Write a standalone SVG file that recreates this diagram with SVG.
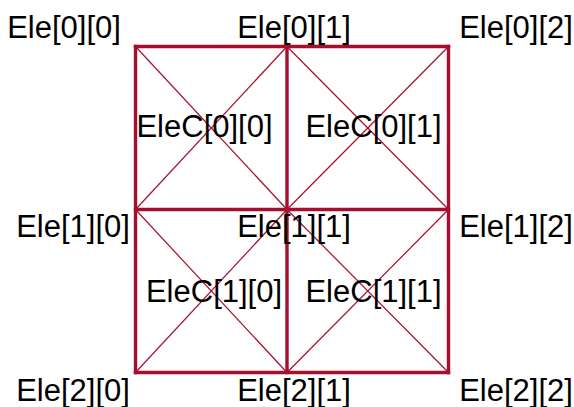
<svg xmlns="http://www.w3.org/2000/svg" width="574" height="407" viewBox="0 0 574 407">
<style>
.grid{stroke:#a50f2d;stroke-width:3.4;fill:none;stroke-linecap:square}
.diag{stroke:#a50f2d;stroke-width:1.2;fill:none}
text{font-family:"Liberation Sans",Arial,sans-serif;font-size:31px;fill:#000;text-anchor:middle}
</style>
<rect width="574" height="407" fill="#fff"/>
<g id="connectors">
<line class="diag" x1="135.5" y1="46.5" x2="287" y2="209.5"/>
<line class="diag" x1="287" y1="46.5" x2="135.5" y2="209.5"/>
<line class="diag" x1="287" y1="46.5" x2="448.5" y2="209.5"/>
<line class="diag" x1="448.5" y1="46.5" x2="287" y2="209.5"/>
<line class="diag" x1="135.5" y1="209.5" x2="287" y2="372.5"/>
<line class="diag" x1="287" y1="209.5" x2="135.5" y2="372.5"/>
<line class="diag" x1="287" y1="209.5" x2="448.5" y2="372.5"/>
<line class="diag" x1="448.5" y1="209.5" x2="287" y2="372.5"/>
<line class="grid" x1="135.5" y1="46.5" x2="448.5" y2="46.5"/>
<line class="grid" x1="135.5" y1="209.5" x2="448.5" y2="209.5"/>
<line class="grid" x1="135.5" y1="372.5" x2="448.5" y2="372.5"/>
<line class="grid" x1="135.5" y1="46.5" x2="135.5" y2="372.5"/>
<line class="grid" x1="287" y1="46.5" x2="287" y2="372.5"/>
<line class="grid" x1="448.5" y1="46.5" x2="448.5" y2="372.5"/>
</g>
<g id="ele00"><text x="64" y="38">Ele[0][0]</text></g>
<g id="ele01"><text x="294" y="38">Ele[0][1]</text></g>
<g id="ele02"><text x="516" y="38">Ele[0][2]</text></g>
<g id="ele10"><text x="73" y="237">Ele[1][0]</text></g>
<g id="ele11"><text x="294" y="237">Ele[1][1]</text></g>
<g id="ele12"><text x="516" y="237">Ele[1][2]</text></g>
<g id="ele20"><text x="73" y="401">Ele[2][0]</text></g>
<g id="ele21"><text x="294" y="401">Ele[2][1]</text></g>
<g id="ele22"><text x="516" y="401">Ele[2][2]</text></g>
<g id="elec00"><text x="204.5" y="137">EleC[0][0]</text></g>
<g id="elec01"><text x="373.5" y="137">EleC[0][1]</text></g>
<g id="elec10"><text x="214" y="302">EleC[1][0]</text></g>
<g id="elec11"><text x="373.5" y="302">EleC[1][1]</text></g>
</svg>
